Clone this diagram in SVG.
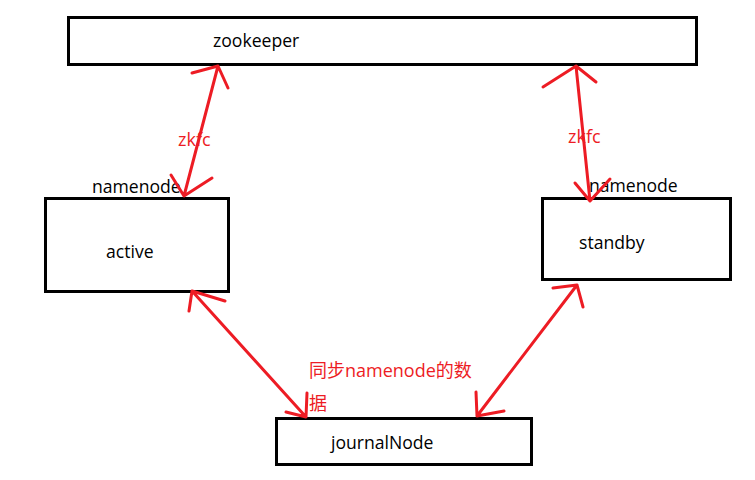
<svg xmlns="http://www.w3.org/2000/svg" width="755" height="480" viewBox="0 0 755 480">
<style>
.box{fill:#fff;stroke:#000;stroke-width:3}
.t{font-family:"Open Sans","Liberation Sans",sans-serif;font-size:17.6px;fill:#000}
.r{font-family:"Open Sans","Liberation Sans","Noto Sans CJK SC",sans-serif;font-size:18px;fill:#ed1c24}
.c{fill:none;stroke:#ed1c24;stroke-width:3;stroke-linecap:round;stroke-linejoin:round}
</style>
<rect width="755" height="480" fill="#fff"/>
<g id="zookeeper"><rect class="box" x="68.5" y="17.5" width="628" height="47"/><text class="t" x="213" y="47">zookeeper</text></g>
<g id="active"><rect class="box" x="45.5" y="198.5" width="183" height="93"/><text class="t" x="92" y="193">namenode</text><text class="t" x="106" y="258">active</text></g>
<g id="standby"><rect class="box" x="542.5" y="198.5" width="188" height="81"/><text class="t" x="589" y="192">namenode</text><text class="t" x="579" y="249">standby</text></g>
<g id="journalNode"><rect class="box" x="276.5" y="418.5" width="255" height="46"/><text class="t" x="331" y="449">journalNode</text></g>
<g id="connectors">
<path class="c" d="M218,66 L184,196 M192,73 L218,66 L228,88 M171,175 L184,196 L212,178"/>
<path class="c" d="M576,66 L590,201 M543,87 L576,66 L596,82 M575,183 L590,201 L610,179"/>
<path class="c" d="M192,291 L306,417 M189,311 L192,291 L225,301 M307,393 L306,417 L286,412"/>
<path class="c" d="M577,285 L477,416 M553,288 L577,285 L583,307 M476,392 L477,416 L504,411"/>
<text class="r" x="178" y="146">zkfc</text>
<text class="r" x="568" y="143">zkfc</text>
<text class="r" x="309" y="377">同步namenode的数</text>
<text class="r" x="309" y="410">据</text>
</g>
</svg>
